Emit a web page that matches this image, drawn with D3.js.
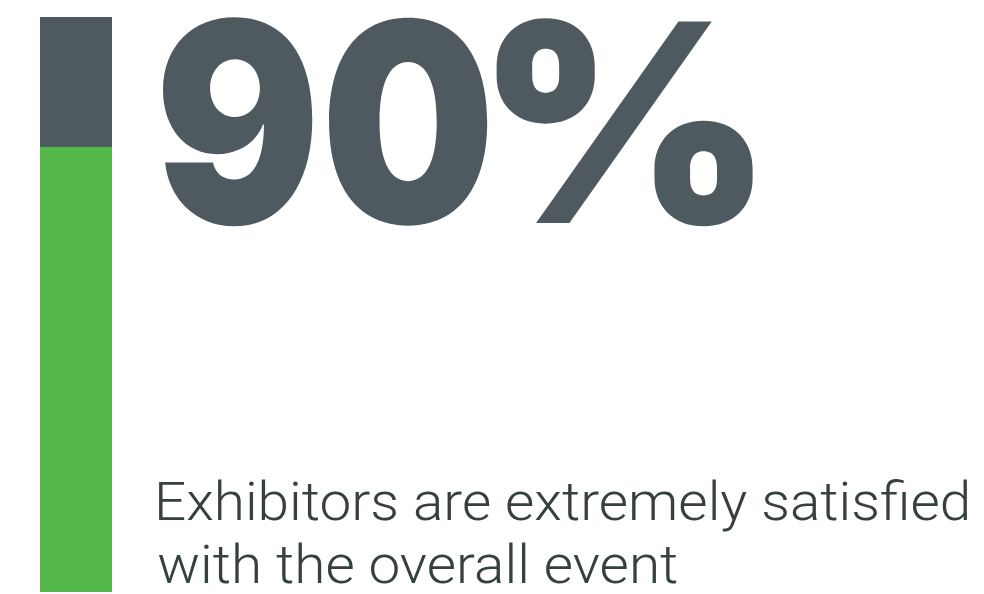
<!DOCTYPE html>
<html>
<head>
<meta charset="utf-8">
<script src="https://cdn.jsdelivr.net/npm/d3@7"></script>
<style>
  html, body { margin: 0; padding: 0; background: #ffffff; }
  svg { display: block; }
</style>
</head>
<body>
<div id="chart"></div>
<script>
// ── Data ────────────────────────────────────────────────────
const statValue  = [90];            // headline figure (%)
const barFill    = [77.4];          // green share of the bar, as drawn (%)
const barDomain  = [0, 100];
const captionLines = [
  "Exhibitors are extremely satisfied",
  "with the overall event"
];

// ── Colours ─────────────────────────────────────────────────
const GRAY  = "#4f5a60";
const GREEN = "#54b74a";
const INK   = "#364041";

const W = 984, H = 594;

const svg = d3.select("#chart").append("svg")
  .attr("width", W).attr("height", H)
  .attr("viewBox", `0 0 ${W} ${H}`);

// ── Vertical progress bar ──────────────────────────────────
const y = d3.scaleLinear().domain(barDomain).range([592, 17]);
const barX = 40, barW = 72;

svg.append("rect")
  .attr("x", barX).attr("width", barW)
  .attr("y", y(barDomain[1]))
  .attr("height", y(barDomain[0]) - y(barDomain[1]))
  .attr("fill", GRAY);

svg.selectAll("rect.fill")
  .data(barFill)
  .enter().append("rect")
  .attr("class", "fill")
  .attr("x", barX).attr("width", barW)
  .attr("y", d => y(d))
  .attr("height", d => y(barDomain[0]) - y(d))
  .attr("fill", GREEN);

// ── Text fitting helper (uses canvas ink metrics) ──────────
const ctx = document.createElement("canvas").getContext("2d");
function inkMetrics(text, weight, family, size) {
  ctx.font = `${weight} ${size}px ${family}`;
  const m = ctx.measureText(text);
  return {
    left: m.actualBoundingBoxLeft,
    right: m.actualBoundingBoxRight,
    ascent: m.actualBoundingBoxAscent,
    advance: m.width
  };
}

// fits a piece of text's ink box into [left, right] x [top, baseline]
function fitPiece(el, text, weight, family, box) {
  const ref = inkMetrics(text, weight, family, 100);
  const size = 100 * (box.baseline - box.top) / ref.ascent;
  const k = size / 100;
  const sx = (box.right - box.left) / ((ref.left + ref.right) * k);
  return el
    .attr("x", box.left + ref.left * k * sx)
    .attr("y", box.baseline)
    .attr("textLength", ref.advance * k * sx)
    .attr("lengthAdjust", "spacingAndGlyphs")
    .attr("font-size", size)
    .text(text);
}

// ── Headline "90%" ─────────────────────────────────────────
const bigFamily = "Inter, 'Noto Sans', sans-serif";
const bigWeight = 900;
const headline = svg.append("text")
  .attr("class", "headline")
  .attr("font-family", bigFamily)
  .attr("font-weight", bigWeight)
  .attr("fill", GRAY);
fitPiece(headline.append("tspan"), String(statValue[0]), bigWeight, bigFamily,
  { left: 162, right: 488, top: 17, baseline: 223 });
fitPiece(headline.append("tspan"), "%", bigWeight, bigFamily,
  { left: 496, right: 755, top: 18, baseline: 223 });

// ── Caption ────────────────────────────────────────────────
const capFamily = "Roboto, Inter, sans-serif";
const capWeight = 300;
{
  const capRef = inkMetrics("E", capWeight, capFamily, 100);
  const lineRef = inkMetrics(captionLines[0], capWeight, capFamily, 100);
  const capTop = 482, base1 = 520, inkL = 159, inkR = 967;
  const size = 100 * (base1 - capTop) / capRef.ascent;
  const k = size / 100;
  const sx = (inkR - inkL) / ((lineRef.left + lineRef.right) * k);
  const baselines = [520, 583];

  svg.selectAll("text.caption")
    .data(captionLines)
    .enter().append("text")
    .attr("class", "caption")
    .each(function (d, i) {
      const m = inkMetrics(d, capWeight, capFamily, 100);
      d3.select(this)
        .attr("x", inkL + m.left * k * sx)
        .attr("y", baselines[i])
        .attr("textLength", m.advance * k * sx)
        .attr("lengthAdjust", "spacingAndGlyphs");
    })
    .attr("font-family", capFamily)
    .attr("font-weight", capWeight)
    .attr("font-size", size)
    .attr("fill", INK)
    .text(d => d);
}
</script>
</body>
</html>
